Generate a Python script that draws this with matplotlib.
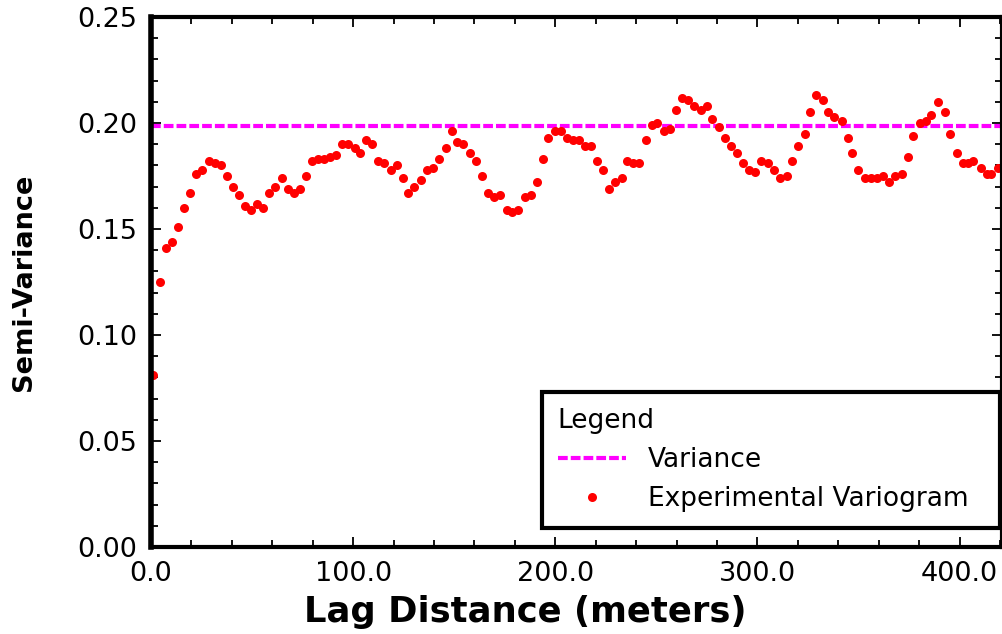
import matplotlib
matplotlib.use("Agg")
import matplotlib.pyplot as plt
from matplotlib.ticker import MultipleLocator, FormatStrFormatter

# datos
lag = [1, 4.5, 7.4, 10.4, 13.4, 16.3, 19.3, 22.3, 25.2, 28.7,
       31.7, 34.7, 37.6, 40.6, 43.6, 46.5, 49.5, 52.5, 55.4, 58.4,
       61.4, 64.9, 67.8, 70.8, 73.8, 76.7, 79.7, 82.7, 85.6, 88.6,
       91.6, 94.6, 97.5, 101, 103.5, 106.4, 109.4, 112.4, 115.3, 118.8,
       121.8, 124.8, 127.2, 130.2, 133.7, 136.6, 139.6, 142.6, 146, 149,
       151.5, 154.5, 157.9, 160.9, 163.9, 166.8, 169.8, 172.8, 176.2, 178.7,
       181.7, 185.1, 188.1, 191.1, 194.1, 196.5, 200, 203, 206, 208.9,
       211.9, 214.9, 217.8, 220.8, 223.8, 226.7, 229.7, 233.2, 235.6, 238.6,
       241.6, 245, 248, 250.5, 254, 256.9, 259.9, 262.9, 265.8, 268.8,
       272.3, 275.2, 277.7, 281.2, 284.2, 287.1, 290.1, 293.1, 296, 299,
       302, 305, 308, 311.4, 314.4, 317.3, 320.3, 323.3, 326.2, 329.2,
       332.2, 335.1, 338.1, 341.6, 344.6, 347, 350, 353, 356.4, 359.4,
       361.9, 365.3, 368.3, 371.3, 374.3, 377.2, 380.2, 383.2, 386.1, 389.1,
       392.6, 395.5, 398.5, 401.5, 404, 406.9, 410.4, 413.4, 415.8, 418.8]
semivar = [0.081, 0.125, 0.141, 0.144, 0.151, 0.160, 0.167, 0.176, 0.178, 0.182,
           0.181, 0.180, 0.175, 0.170, 0.166, 0.161, 0.159, 0.162, 0.160, 0.167,
           0.170, 0.174, 0.169, 0.167, 0.169, 0.175, 0.182, 0.183, 0.183, 0.184,
           0.185, 0.190, 0.190, 0.188, 0.186, 0.192, 0.190, 0.182, 0.181, 0.178,
           0.180, 0.174, 0.167, 0.170, 0.173, 0.178, 0.179, 0.183, 0.188, 0.196,
           0.191, 0.190, 0.186, 0.182, 0.175, 0.167, 0.165, 0.166, 0.159, 0.158,
           0.159, 0.165, 0.166, 0.172, 0.183, 0.193, 0.196, 0.196, 0.193, 0.192,
           0.192, 0.189, 0.189, 0.182, 0.178, 0.169, 0.172, 0.174, 0.182, 0.181,
           0.181, 0.192, 0.199, 0.200, 0.196, 0.197, 0.206, 0.212, 0.211, 0.208,
           0.206, 0.208, 0.202, 0.198, 0.193, 0.189, 0.186, 0.181, 0.178, 0.177,
           0.182, 0.181, 0.178, 0.174, 0.175, 0.182, 0.189, 0.195, 0.205, 0.213,
           0.211, 0.205, 0.203, 0.201, 0.193, 0.186, 0.178, 0.174, 0.174, 0.174,
           0.175, 0.172, 0.175, 0.176, 0.184, 0.194, 0.200, 0.201, 0.204, 0.210,
           0.205, 0.195, 0.186, 0.181, 0.181, 0.182, 0.179, 0.176, 0.176, 0.179]
varianza = 0.1985

plt.rcParams["font.family"] = "DejaVu Sans"
plt.rcParams["lines.scale_dashes"] = False

fig = plt.figure(figsize=(10.03, 6.34), dpi=100)
ax = fig.add_axes([151 / 1003, 87 / 634, 851 / 1003, 530 / 634])

ax.axhline(varianza, color="#ff00ff", lw=3, dashes=(7, 2.2), label="Variance")
ax.plot(lag, semivar, "o", color="red", ms=6.5, mew=0, label="Experimental Variogram")

ax.set_xlim(0, 421)
ax.set_ylim(0, 0.25)
ax.xaxis.set_major_locator(MultipleLocator(100))
ax.xaxis.set_minor_locator(MultipleLocator(20))
ax.yaxis.set_major_locator(MultipleLocator(0.05))
ax.yaxis.set_minor_locator(MultipleLocator(0.01))
ax.xaxis.set_major_formatter(FormatStrFormatter("%.1f"))
ax.yaxis.set_major_formatter(FormatStrFormatter("%.2f"))

for s in ax.spines.values():
    s.set_linewidth(3)
ax.spines["left"].set_linewidth(4)
ax.tick_params(which="both", direction="in", top=True, right=True, width=1.3)
ax.tick_params(which="major", length=7.5, labelsize=19.5, pad=10)
ax.tick_params(which="minor", length=5)

ax.set_xlabel("Lag Distance (meters)", fontsize=25.5, fontweight="bold", va="center")
ax.xaxis.set_label_coords((525 - 151) / 851, (547 - 612) / 530)
ax.set_ylabel("Semi-Variance", fontsize=19.5, fontweight="bold", va="center")
ax.yaxis.set_label_coords((24 - 151) / 851, 0.5)

# leyenda en caja, ancho fijo
leg = ax.legend(title="Legend", loc="lower left",
                bbox_to_anchor=((542 - 151) / 851, (547 - 528) / 530, (1000 - 542) / 851, 0),
                mode="expand", borderaxespad=0, fancybox=False, framealpha=1,
                fontsize=19, title_fontsize=19, alignment="left", handlelength=2.6,
                handletextpad=0.8, labelspacing=0.5, borderpad=0.6)
leg.get_frame().set_edgecolor("black")
leg.get_frame().set_linewidth(3)

plt.savefig("out.png", dpi=100)
